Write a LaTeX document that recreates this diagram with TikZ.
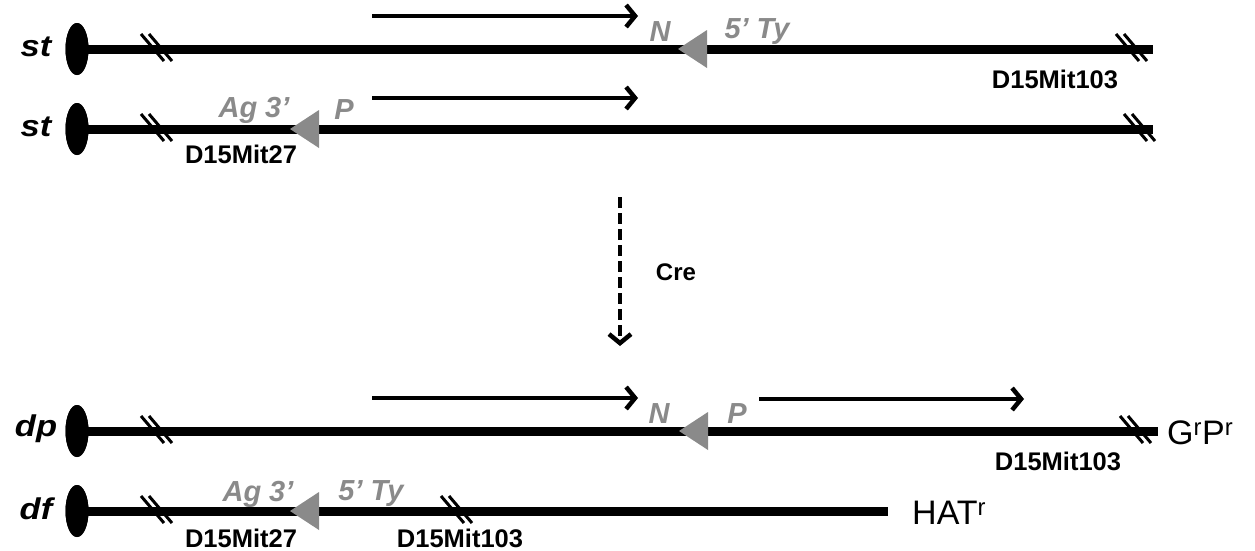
\documentclass[tikz,border=0pt]{standalone}
\usepackage{fontspec}
\setmainfont{Liberation Sans}
\usetikzlibrary{arrows.meta,shapes.geometric}

\definecolor{loxgray}{HTML}{8A8A8A}

\tikzset{
  chrom/.style={line width=9pt, line cap=butt},
  cen/.style={ellipse, fill=black, inner sep=0pt, minimum width=23pt, minimum height=52pt},
  strain/.style={font=\bfseries\itshape\fontsize{30}{30}\selectfont, inner sep=0pt},
  marker/.style={font=\bfseries\fontsize{25.5}{25.5}\selectfont, inner sep=0pt},
  site/.style={font=\bfseries\itshape\fontsize{29}{29}\selectfont, text=loxgray, inner sep=0pt},
  pheno/.style={font=\fontsize{34}{34}\selectfont, inner sep=0pt, anchor=west},
  creLabel/.style={font=\bfseries\fontsize{24}{24}\selectfont, inner sep=0pt},
  barb/.style={-{Straight Barb[length=9pt, width=22pt]}},
  txarrow/.style={line width=4.5pt, barb},
  brk/.style={line width=3pt},
  lox/.style={fill=loxgray, draw=none}
}

% break mark on a chromosome line
\newcommand{\brkmark}[2]{%
  \draw[brk] (#1-14,#2-15) -- (#1+9,#2+12);
  \draw[brk] (#1-6,#2-15) -- (#1+17,#2+12);
}
% loxP site as a left-pointing triangle
\newcommand{\loxsite}[2]{%
  \fill[lox] (#1,#2) -- (#1+29,#2-19) -- (#1+29,#2+19) -- cycle;
}

\begin{document}
\begin{tikzpicture}[x=1pt, y=-1pt]
\useasboundingbox (0,0) rectangle (1255,550);

% ---------- chromosome st (upper) ----------
\coordinate (e1) at (1153,49);
\node[cen] (c1) at (77,49) {};
\draw[chrom] (c1.center) -- (e1);
\node[cen] at (c1) {};
\node[strain] (l1) at (36,47) {\scalebox{1.15}[1]{st}};
\brkmark{155}{49}
\brkmark{1130}{49}
\loxsite{678}{49}
\node[site] (n1) at (660,32) {N};
\node[site] (t1) at (757,32) {5’ Ty};
\coordinate (a1s) at (372,16);
\coordinate (a1e) at (638,16);
\draw[txarrow] (a1s) -- (a1e);
\node[marker] (m1) at (1055,79) {D15Mit103};

% ---------- chromosome st (lower) ----------
\coordinate (e2) at (1153,129);
\node[cen] (c2) at (77,129) {};
\draw[chrom] (c2.center) -- (e2);
\node[cen] at (c2) {};
\node[strain] (l2) at (36,127) {\scalebox{1.15}[1]{st}};
\brkmark{155}{129}
\brkmark{1138}{129}
\loxsite{290}{129}
\node[site] (g2) at (254,110) {Ag\hspace{8pt}3’};
\node[site] (p2) at (344,110) {P};
\coordinate (a2s) at (372,98);
\coordinate (a2e) at (638,98);
\draw[txarrow] (a2s) -- (a2e);
\node[marker] (m2) at (241,154) {D15Mit27};

% ---------- Cre recombination ----------
\coordinate (cs) at (620,197);
\coordinate (ce) at (620,346);
\draw[line width=4.5pt, dash pattern=on 11pt off 5pt, barb] (cs) -- (ce);
\node[creLabel] (cre) at (676,272) {Cre};

% ---------- chromosome dp ----------
\coordinate (e3) at (1158,431);
\node[cen] (c3) at (77,431) {};
\draw[chrom] (c3.center) -- (e3);
\node[cen] at (c3) {};
\node[strain] (l3) at (36,429) {\scalebox{1.15}[1]{dp}};
\brkmark{155}{431}
\brkmark{1134}{431}
\loxsite{679}{431}
\node[site] (n3) at (659,414) {N};
\node[site] (p3) at (737,414) {P};
\coordinate (a3s) at (372,398);
\coordinate (a3e) at (638,398);
\draw[txarrow] (a3s) -- (a3e);
\coordinate (a4s) at (759,399);
\coordinate (a4e) at (1024,399);
\draw[txarrow] (a4s) -- (a4e);
\node[marker] (m3) at (1058,461) {D15Mit103};
\node[pheno] (ph1) at (1167,433) {G\textsuperscript{r}P\textsuperscript{r}};

% ---------- chromosome df ----------
\coordinate (e4) at (888,511);
\node[cen] (c4) at (77,511) {};
\draw[chrom] (c4.center) -- (e4);
\node[cen] at (c4) {};
\node[strain] (l4) at (36,509) {\scalebox{1.15}[1]{df}};
\brkmark{155}{511}
\brkmark{455}{511}
\loxsite{290}{511}
\node[site] (g4) at (258,494) {Ag\hspace{8pt}3’};
\node[site] (t4) at (371,494) {5’ Ty};
\node[marker] (m4) at (241,538) {D15Mit27};
\node[marker] (m5) at (460,538) {D15Mit103};
\node[pheno] (ph2) at (912,513) {HAT\textsuperscript{r}};
\end{tikzpicture}
\end{document}
